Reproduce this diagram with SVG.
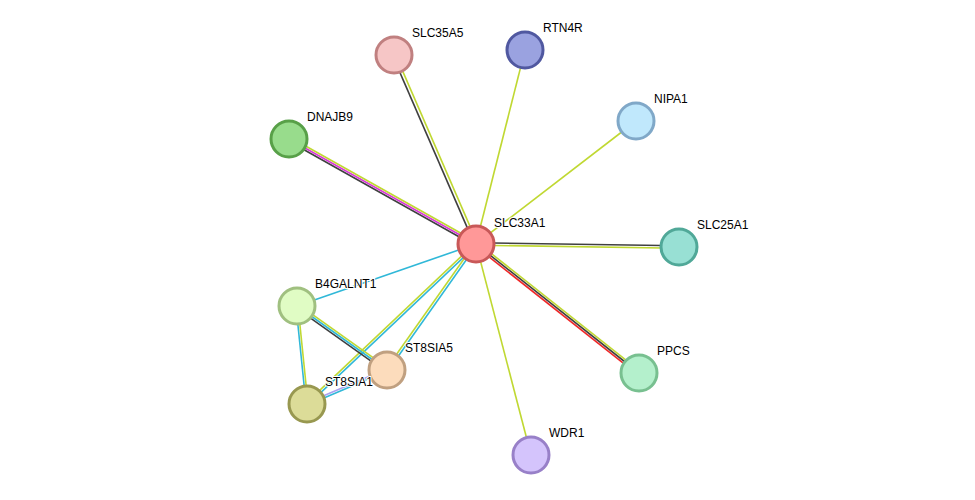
<svg xmlns="http://www.w3.org/2000/svg" width="975" height="500" viewBox="0 0 975 500">
<style>
line{stroke-width:1.6}
.y{stroke:#c0d832}.d{stroke:#404040}.m{stroke:#d838d8}.c{stroke:#30b8d8}.r{stroke:#f02828}.l{stroke:#a8a0f0}
circle{stroke-width:3}
text{font-family:"Liberation Sans",Arial,sans-serif;font-size:12px;fill:#000;paint-order:stroke;stroke:#fff;stroke-width:2px}
</style>
<rect width="975" height="500" fill="#fff"/>
<g id="edges">
<line class="d" x1="474.6" y1="244.6" x2="392.6" y2="55.6"/><line class="y" x1="477.4" y1="243.4" x2="395.4" y2="54.4"/>
<line class="y" x1="476" y1="244" x2="525" y2="50"/>
<line class="y" x1="476" y1="244" x2="636" y2="121"/>
<line class="d" x1="475" y1="245.8" x2="288" y2="140.8"/><line class="m" x1="476" y1="244" x2="289" y2="139"/><line class="y" x1="477" y1="242.2" x2="290" y2="137.2"/>
<line class="d" x1="476" y1="242.8" x2="679" y2="245.8"/><line class="y" x1="476" y1="245.2" x2="679" y2="248.2"/>
<line class="r" x1="474.8" y1="245.6" x2="637.8" y2="374.6"/><line class="d" x1="476" y1="244" x2="639" y2="373"/><line class="y" x1="477.2" y1="242.4" x2="640.2" y2="371.4"/>
<line class="y" x1="476" y1="244" x2="531" y2="455"/>
<line class="c" x1="476" y1="244" x2="297" y2="306"/>
<line class="y" x1="475" y1="243.3" x2="386" y2="369.3"/><line class="c" x1="477" y1="244.7" x2="388" y2="370.7"/>
<line class="y" x1="475.2" y1="243.2" x2="306.2" y2="403.2"/><line class="c" x1="476.8" y1="244.8" x2="307.8" y2="404.8"/>
<line class="d" x1="295.8" y1="307.6" x2="385.8" y2="371.6"/><line class="c" x1="297" y1="306" x2="387" y2="370"/><line class="y" x1="298.2" y1="304.4" x2="388.2" y2="368.4"/>
<line class="c" x1="296" y1="306" x2="306" y2="404"/><line class="y" x1="298" y1="306" x2="308" y2="404"/>
<line class="l" x1="306.6" y1="403.1" x2="386.6" y2="369.1"/><line class="c" x1="307.4" y1="404.9" x2="387.4" y2="370.9"/>
</g>
<g id="SLC33A1"><circle cx="476" cy="244" r="18" fill="#ff9898" stroke="#c85858"/><text x="494" y="227">SLC33A1</text></g>
<g id="SLC35A5"><circle cx="394" cy="55" r="18" fill="#f6c6c6" stroke="#c08080"/><text x="412" y="37">SLC35A5</text></g>
<g id="RTN4R"><circle cx="525" cy="50" r="18" fill="#9aa2e0" stroke="#5058a0"/><text x="543" y="32">RTN4R</text></g>
<g id="NIPA1"><circle cx="636" cy="121" r="18" fill="#c0e8fc" stroke="#80a8c8"/><text x="654" y="103">NIPA1</text></g>
<g id="DNAJB9"><circle cx="289" cy="139" r="18" fill="#98dc8c" stroke="#58a048"/><text x="307" y="121">DNAJB9</text></g>
<g id="SLC25A1"><circle cx="679" cy="247" r="18" fill="#98e0d4" stroke="#50a898"/><text x="697" y="229">SLC25A1</text></g>
<g id="PPCS"><circle cx="639" cy="373" r="18" fill="#b4f0cc" stroke="#78c090"/><text x="657" y="355">PPCS</text></g>
<g id="WDR1"><circle cx="531" cy="455" r="18" fill="#d4c4fc" stroke="#9880c8"/><text x="549" y="437">WDR1</text></g>
<g id="B4GALNT1"><circle cx="297" cy="306" r="18" fill="#e0fcc4" stroke="#a0c080"/><text x="315" y="288">B4GALNT1</text></g>
<g id="ST8SIA5"><circle cx="387" cy="370" r="18" fill="#fcdcbc" stroke="#c0a080"/><text x="405" y="352">ST8SIA5</text></g>
<g id="ST8SIA1"><circle cx="307" cy="404" r="18" fill="#dcdc98" stroke="#989850"/><text x="325" y="386">ST8SIA1</text></g>
</svg>
